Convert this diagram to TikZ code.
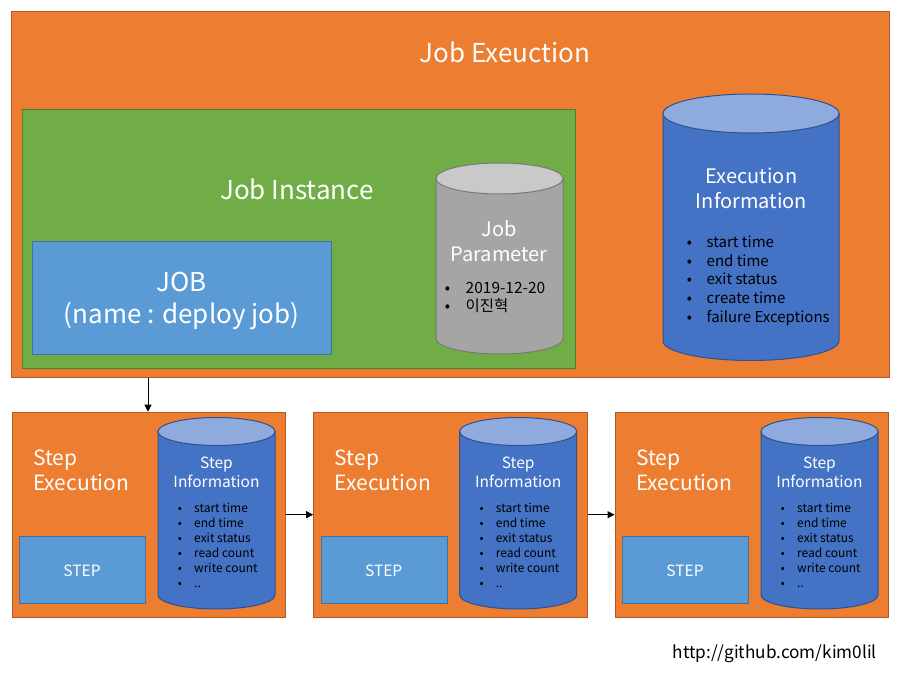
\documentclass[tikz,border=0pt]{standalone}
\usepackage{fontspec}
\setmainfont{Noto Sans CJK KR}
\newfontfamily\kr{Noto Sans CJK KR}
\usetikzlibrary{arrows.meta}
\definecolor{org}{HTML}{ED7D31}
\definecolor{orgb}{HTML}{AE5A21}
\definecolor{grn}{HTML}{70AD47}
\definecolor{grnb}{HTML}{507E32}
\definecolor{lblue}{HTML}{5B9BD5}
\definecolor{lblueb}{HTML}{41719C}
\definecolor{dblue}{HTML}{4472C4}
\definecolor{dbluetop}{HTML}{8FAADC}
\definecolor{dblueb}{HTML}{2F528F}
\definecolor{gry}{HTML}{A5A5A5}
\definecolor{grytop}{HTML}{C9C9C9}
\definecolor{gryb}{HTML}{787878}
\newcommand{\mycyl}[8]{%
  \pgfmathsetmacro\cx{(#1+#2)/2}%
  \pgfmathsetmacro\rx{(#2-#1)/2}%
  \path[fill=#6,draw=#8,line width=1pt] (#1,#3) -- (#1,#4)
    arc[start angle=180,end angle=0,x radius=\rx,y radius=#5] -- (#2,#3) -- cycle;
  \path[fill=#7,draw=#8,line width=1pt] (\cx,#3) ellipse[x radius=\rx,y radius=#5];
}
\begin{document}
\begin{tikzpicture}[x=1pt,y=1pt,yscale=-1,
  box/.style={rectangle,line width=1pt,inner sep=0pt,anchor=north west},
  txt/.style={inner sep=0pt,text height=#1,text depth=0pt},
  wt/.style={txt=#1,text=white},
  bk/.style={txt=#1,text=black},
  arr/.style={line width=1pt,-{Triangle[length=7pt,width=7pt]}}]
\useasboundingbox (0,0) rectangle (898,679);
\fill[white] (0,0) rectangle (898,679);
% Job execution
\node[box,fill=org,draw=orgb,minimum width=878pt,minimum height=366pt] (outer) at (11,11) {};
\node[wt=18.6pt,font=\fontsize{26}{30}\selectfont] (tje) at (505,53.5) {Job Exeuction};
% Job instance
\node[box,fill=grn,draw=grnb,minimum width=553pt,minimum height=259pt] (inst) at (22,109) {};
\node[wt=18.6pt,font=\fontsize{26}{30}\selectfont] (tji) at (297,190.5) {Job Instance};
\node[box,fill=lblue,draw=lblueb,minimum width=299pt,minimum height=113pt] (job) at (32,241.5) {};
\node[wt=18.6pt,font=\fontsize{26}{30}\selectfont] (tjob1) at (181.5,282.5) {JOB};
\node[wt=18.6pt,font=\fontsize{26}{30}\selectfont] (tjob2) at (181.5,314.5) {(name : deploy job)};
% Job parameter cylinder
\mycyl{436}{563}{178.5}{338.5}{15.5}{gry}{grytop}{gryb}
\node[wt=15pt,font=\fontsize{20}{24}\selectfont] (tjp1) at (499,229) {Job};
\node[wt=15pt,font=\fontsize{20}{24}\selectfont] (tjp2) at (499,254) {Parameter};
\node[bk=12.3pt,font=\fontsize{15.5}{18}\selectfont] (bjp1) at (447.5,287.3) {\textbullet};
\node[bk=12.3pt,font=\fontsize{15.5}{18}\selectfont,anchor=west] (ijp1) at (465.5,287.3) {2019-12-20};
\node[bk=12.3pt,font=\fontsize{15.5}{18}\selectfont] (bjp2) at (447.5,305.3) {\textbullet};
\node[bk=12.3pt,font=\fontsize{15.5}{18}\selectfont,anchor=west] (ijp2) at (465.5,305.3) {{\kr 이진혁}};
% Execution information cylinder
\mycyl{663}{839}{113.5}{341}{19.5}{dblue}{dbluetop}{dblueb}
\node[wt=15pt,font=\fontsize{20}{24}\selectfont] (tei1) at (751.5,176.5) {Execution};
\node[wt=15pt,font=\fontsize{20}{24}\selectfont] (tei2) at (751.5,201) {Information};
\foreach \t [count=\k from 0] in {start time,end time,exit status,create time,failure Exceptions}{
  \node[bk=12pt,font=\fontsize{15}{18}\selectfont] (bei\k) at (689.5,241.7+18.65*\k) {\textbullet};
  \node[bk=12pt,font=\fontsize{15}{18}\selectfont,anchor=west] (iei\k) at (706.5,241.7+18.65*\k) {\t};
}
% Step executions
\foreach \i/\dx in {1/0,2/301.7,3/603}{
  \begin{scope}[xshift=\dx pt]
  \node[box,fill=org,draw=orgb,minimum width=273.5pt,minimum height=205pt] (step\i) at (11.5,411.7) {};
  \node[wt=15.6pt,font=\fontsize{21}{25}\selectfont,anchor=west] (tse\i a) at (33,457.5) {Step};
  \node[wt=15.6pt,font=\fontsize{21}{25}\selectfont,anchor=west] (tse\i b) at (33,482.5) {Execution};
  \node[box,fill=lblue,draw=lblueb,minimum width=125.5pt,minimum height=67pt] (stepbox\i) at (19.3,535.7) {};
  \node[wt=12.3pt,font=\fontsize{15.5}{18}\selectfont] (tsb\i) at (82,570) {STEP};
  \mycyl{158}{275}{431.5}{595}{14}{dblue}{dbluetop}{dblueb}
  \node[wt=12.3pt,font=\fontsize{15.5}{18}\selectfont] (tsi\i a) at (216.5,462) {Step};
  \node[wt=12.3pt,font=\fontsize{15.5}{18}\selectfont] (tsi\i b) at (216.5,481.5) {Information};
  \foreach \t [count=\k from 0] in {start time,end time,exit status,read count,write count,..}{
    \node[bk=10.2pt,font=\fontsize{12}{14}\selectfont] (bs\i\k) at (180,507+15*\k) {\textbullet};
    \node[bk=10.2pt,font=\fontsize{12}{14}\selectfont,anchor=west] (is\i\k) at (194,507+15*\k) {\t};
  }
  \end{scope}
}
% connectors
\coordinate (a1) at (148,0);
\draw[arr] (outer.south -| a1) -- (step1.north -| a1);
\draw[arr] (step1.east) -- (step2.west);
\draw[arr] (step2.east) -- (step3.west);
% footer
\node[bk=13.3pt,font=\fontsize{17.2}{20}\selectfont,anchor=east] (foot) at (877,652) {http://github.com/kim0lil};
\end{tikzpicture}
\end{document}
